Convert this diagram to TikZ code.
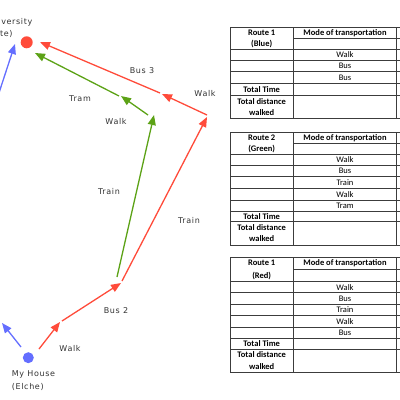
\documentclass[tikz,border=0pt]{standalone}
\usepackage{fontspec}
\setmainfont{DejaVu Sans}
\newfontfamily\lblfont[LetterSpace=8]{DejaVu Sans}
\newfontfamily\tblfont{Carlito}
\usetikzlibrary{arrows.meta}
\definecolor{rred}{RGB}{255,75,58}
\definecolor{rgreen}{RGB}{92,162,22}
\definecolor{rblue}{RGB}{100,110,255}
\definecolor{tline}{RGB}{60,60,60}
\tikzset{
  rt/.style={line width=1.3pt, -{Triangle[length=10pt,width=8pt]}},
  lbl/.style={font=\lblfont\fontsize{8}{13}\selectfont, text=black!80, inner sep=0pt},
  tb/.style={font=\tblfont\fontsize{8.5}{10}\selectfont, inner sep=0pt},
  tbb/.style={font=\tblfont\bfseries\fontsize{8.5}{10}\selectfont, inner sep=0pt},
  tl/.style={draw=tline, line width=0.8pt}
}
\begin{document}
\begin{tikzpicture}[x=1pt,y=-1pt]
\useasboundingbox (0,0) rectangle (400,400);
\clip (0,0) rectangle (400,400);
% dots
\fill[rred] (26.7,42.3) circle (6);
\fill[rblue] (28.3,357.7) circle (5.5);
\node[lbl,anchor=east] (uni1) at (32.5,22.7) {University};
\node[lbl,anchor=east] (uni2) at (12.7,33.7) {(Alicante)};
\node[lbl,anchor=west,align=left] (house) at (11.7,380.8) {My House\\(Elche)};
% coordinates
\coordinate (R0) at (39,349);   \coordinate (R1) at (60,322);
\coordinate (R1s) at (62,321);  \coordinate (R2) at (121,283);
\coordinate (R2s) at (122,281); \coordinate (R3) at (207,117);
\coordinate (R3s) at (207,115); \coordinate (R4) at (162,94);
\coordinate (R4s) at (160,93);  \coordinate (R5) at (40,42);
\coordinate (G0) at (117,277);  \coordinate (G1) at (154,115);
\coordinate (G1s) at (148,115); \coordinate (G2) at (121,96);
\coordinate (G2s) at (119,96);  \coordinate (G3) at (35,53);
\coordinate (B0) at (21,347);   \coordinate (B1) at (2,323);
\coordinate (B2) at (-5,105);   \coordinate (B3) at (15,44);
% red route
\draw[rt,rred] (R0) -- (R1);
\draw[rt,rred] (R1s) -- (R2);
\draw[rt,rred] (R2s) -- (R3);
\draw[rt,rred] (R3s) -- (R4);
\draw[rt,rred] (R4s) -- (R5);
% green route
\draw[rt,rgreen] (G0) -- (G1);
\draw[rt,rgreen] (G1s) -- (G2);
\draw[rt,rgreen] (G2s) -- (G3);
% blue route
\draw[rt,rblue] (B0) -- (B1);
\draw[rt,rblue] (B2) -- (B3);
% labels
\node[lbl] (lw1) at (70,349) {Walk};
\node[lbl] (lb2) at (116,311) {Bus 2};
\node[lbl] (lt1) at (189,221) {Train};
\node[lbl] (lw2) at (205,94) {Walk};
\node[lbl] (lb3) at (142,71) {Bus 3};
\node[lbl] (lt2) at (109,192) {Train};
\node[lbl] (lw3) at (116,122) {Walk};
\node[lbl] (ltr) at (80,99) {Tram};
% ---------- Table 1
\draw[tl] (230,27.3) -- (410,27.3);
\draw[tl] (293.3,38.3) -- (410,38.3);
\foreach \y in {49.3,60.7,71.7,83.3,95} \draw[tl] (230,\y) -- (410,\y);
\draw[tl] (230,118.3) -- (410,118.3);
\draw[tl] (230,27.3) -- (230,118.3);
\draw[tl] (293.3,27.3) -- (293.3,118.3);
\draw[tl] (396.7,27.3) -- (396.7,118.3);
\node[tbb] (t1a) at (261.7,32.7) {Route 1};
\node[tbb] (t1b) at (261.7,44) {(Blue)};
\node[tbb] (t1c) at (345,32.7) {Mode of transportation};
\node[tb] (t1d) at (345,55) {Walk};
\node[tb] (t1e) at (345,66.2) {Bus};
\node[tb] (t1f) at (345,77.5) {Bus};
\node[tbb] (t1g) at (261.7,89.2) {Total Time};
\node[tbb] (t1h) at (261.7,101.2) {Total distance};
\node[tbb] (t1i) at (261.7,112.4) {walked};
% ---------- Table 2
\draw[tl] (230,132.3) -- (410,132.3);
\draw[tl] (293.3,143.3) -- (410,143.3);
\foreach \y in {154.3,165.7,176.7,188.3,200,211,221.7} \draw[tl] (230,\y) -- (410,\y);
\draw[tl] (230,245) -- (410,245);
\draw[tl] (230,132.3) -- (230,245);
\draw[tl] (293.3,132.3) -- (293.3,245);
\draw[tl] (396.7,132.3) -- (396.7,245);
\node[tbb] (t2a) at (261.7,137.8) {Route 2};
\node[tbb] (t2b) at (261.7,149) {(Green)};
\node[tbb] (t2c) at (345,137.8) {Mode of transportation};
\node[tb] (t2d) at (345,160) {Walk};
\node[tb] (t2e) at (345,171.2) {Bus};
\node[tb] (t2f) at (345,182.5) {Train};
\node[tb] (t2g) at (345,194.2) {Walk};
\node[tb] (t2h) at (345,205.5) {Tram};
\node[tbb] (t2i) at (261.7,216.4) {Total Time};
\node[tbb] (t2j) at (261.7,227.5) {Total distance};
\node[tbb] (t2k) at (261.7,239) {walked};
% ---------- Table 3
\draw[tl] (230,257.3) -- (410,257.3);
\draw[tl] (293.3,269.3) -- (410,269.3);
\foreach \y in {281.7,292.7,304,315.7,327.3,338.3,349.3} \draw[tl] (230,\y) -- (410,\y);
\draw[tl] (230,372.7) -- (410,372.7);
\draw[tl] (230,257.3) -- (230,372.7);
\draw[tl] (293.3,257.3) -- (293.3,372.7);
\draw[tl] (396.7,257.3) -- (396.7,372.7);
\node[tbb] (t3a) at (261.7,263) {Route 1};
\node[tbb] (t3b) at (261.7,275.5) {(Red)};
\node[tbb] (t3c) at (345,263) {Mode of transportation};
\node[tb] (t3d) at (345,287.2) {Walk};
\node[tb] (t3e) at (345,298.4) {Bus};
\node[tb] (t3f) at (345,309.9) {Train};
\node[tb] (t3g) at (345,321.5) {Walk};
\node[tb] (t3h) at (345,332.8) {Bus};
\node[tbb] (t3i) at (261.7,343.8) {Total Time};
\node[tbb] (t3j) at (261.7,355) {Total distance};
\node[tbb] (t3k) at (261.7,366.5) {walked};
\end{tikzpicture}
\end{document}
